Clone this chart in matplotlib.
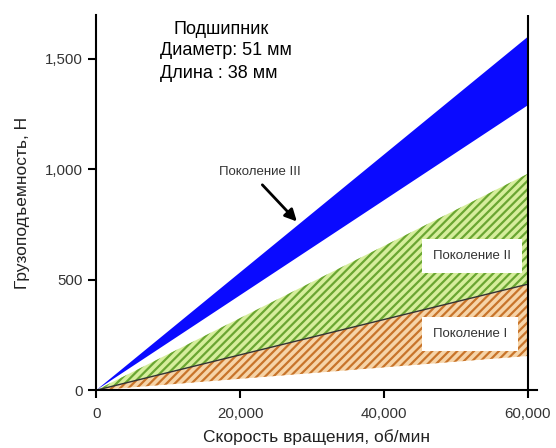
import matplotlib.pyplot as plt
from matplotlib.ticker import FuncFormatter

plt.rcParams['font.family'] = ['Liberation Sans', 'DejaVu Sans']
plt.rcParams['hatch.linewidth'] = 1.6

# Speed points (rpm) and load capacity (N) band edges
speed = [0, 60000]
gen3_upper = [0, 1600]
gen3_lower = [0, 1290]
gen2_upper = [0, 980]
gen2_lower = [0, 480]
gen1_upper = [0, 480]
gen1_lower = [0, 155]

x_ticks = [0, 20000, 40000, 60000]
y_ticks = [0, 500, 1000, 1500]

fig = plt.figure(figsize=(5.56, 4.48), dpi=100)
ax = fig.add_axes([0.173, 0.129, 0.793, 0.838])

# Generation I (orange hatch)
ax.fill_between(speed, gen1_lower, gen1_upper, facecolor='#f6d4a8',
                edgecolor='#c8742a', hatch='////', linewidth=0)
# Generation II (green hatch)
ax.fill_between(speed, gen2_lower, gen2_upper, facecolor='#d6ee9c',
                edgecolor='#6aa632', hatch='////', linewidth=0)
ax.plot(speed, gen2_lower, color='#333333', lw=1)
# Generation III (solid blue)
ax.fill_between(speed, gen3_lower, gen3_upper, facecolor='#0a0aff',
                edgecolor='none')

ax.axvline(60000, color='black', lw=1.5)

ax.set_xlim(0, 61300)
ax.set_ylim(0, 1700)
ax.set_xticks(x_ticks)
ax.set_yticks(y_ticks)
fmt = FuncFormatter(lambda v, p: f'{v:,.0f}')
ax.xaxis.set_major_formatter(fmt)
ax.yaxis.set_major_formatter(fmt)
ax.spines['top'].set_visible(False)
ax.spines['right'].set_visible(False)
ax.spines['left'].set_linewidth(1.5)
ax.spines['bottom'].set_linewidth(1.5)
ax.tick_params(width=1.5, length=6, labelsize=10.8, colors='black',
               labelcolor='#333333')
ax.tick_params(axis='x', pad=6)

ax.set_xlabel('Скорость вращения, об/мин', fontsize=12.5, color='#222222',
              labelpad=6)
ax.set_ylabel('Грузоподъемность, Н', fontsize=12.5, color='#222222',
              labelpad=11)

ax.text(17360, 1635, 'Подшипник', fontsize=13, ha='center', va='center')
ax.text(8900, 1540, 'Диаметр: 51 мм', fontsize=13, ha='left', va='center')
ax.text(8900, 1435, 'Длина : 38 мм', fontsize=13, ha='left', va='center')

ax.text(22800, 990, 'Поколение III', fontsize=9.5, ha='center', va='center',
        color='#333333')
ax.annotate('', xy=(27900, 764), xytext=(23100, 930),
            arrowprops=dict(arrowstyle='-|>,head_width=0.35,head_length=0.7',
                            color='black', lw=2, shrinkA=0, shrinkB=0))

box = dict(facecolor='white', edgecolor='none', pad=8)
ax.text(52200, 609, 'Поколение II', fontsize=9.5, ha='center', va='center',
        color='#333333', bbox=box)
ax.text(52000, 255, 'Поколение I', fontsize=9.5, ha='center', va='center',
        color='#333333', bbox=box)

fig.savefig('out.png', dpi=100)
